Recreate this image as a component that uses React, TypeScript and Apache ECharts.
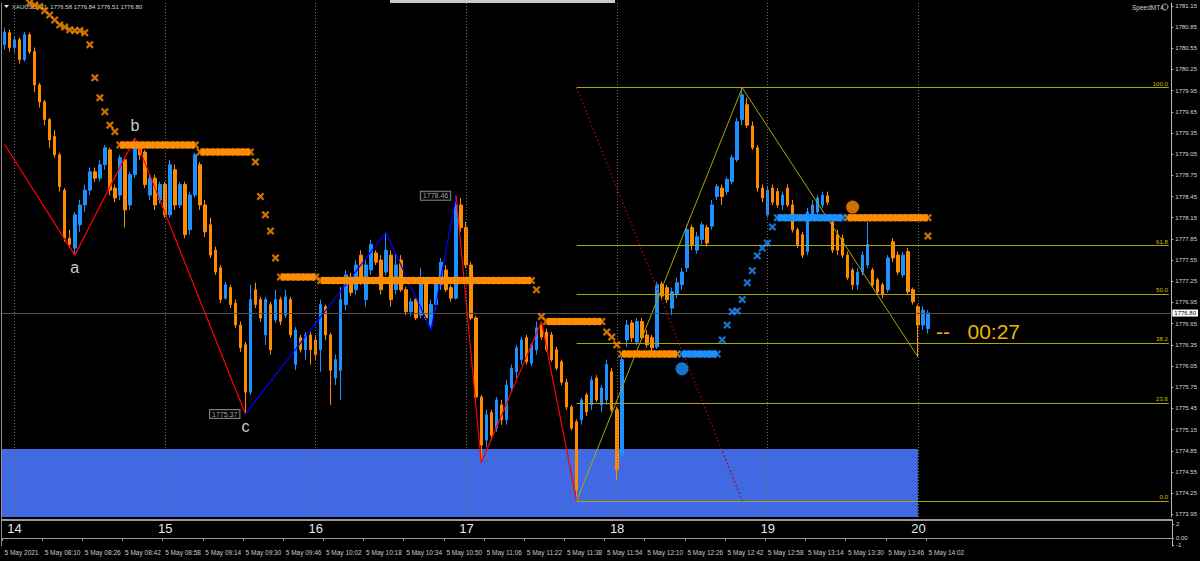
import React, { useEffect, useRef } from "react";
import * as echarts from "echarts";

// ---------- data (2-minute slots, slot 0 = 07:54) ----------
const SLOT_COUNT = 233;
// [open, close, low, high]
const candles: number[][] = [
  [1780.60, 1780.78, 1780.53, 1780.84], [1780.77, 1780.56, 1780.50, 1780.81], [1780.56, 1780.67, 1780.48, 1780.71],
  [1780.67, 1780.39, 1780.33, 1780.70], [1780.39, 1780.74, 1780.36, 1780.78], [1780.74, 1780.50, 1780.47, 1780.77],
  [1780.50, 1780.03, 1779.93, 1780.56], [1780.03, 1779.79, 1779.71, 1780.06], [1779.79, 1779.54, 1779.46, 1779.82],
  [1779.54, 1779.25, 1779.14, 1779.56], [1779.30, 1779.04, 1779.00, 1779.39], [1779.04, 1778.59, 1778.52, 1779.07],
  [1778.54, 1777.86, 1777.81, 1778.57], [1777.86, 1777.77, 1777.72, 1777.98], [1777.72, 1778.19, 1777.62, 1778.23],
  [1778.05, 1778.33, 1777.95, 1778.40], [1778.33, 1778.54, 1778.23, 1778.62], [1778.54, 1778.80, 1778.47, 1778.86],
  [1778.80, 1778.71, 1778.66, 1778.86], [1778.71, 1778.90, 1778.66, 1778.97], [1778.90, 1779.14, 1778.83, 1779.18],
  [1779.11, 1778.54, 1778.47, 1779.14], [1778.57, 1778.43, 1778.37, 1778.62], [1778.47, 1779.00, 1778.40, 1779.04],
  [1778.97, 1778.26, 1778.01, 1779.00], [1778.33, 1778.76, 1778.26, 1778.80], [1778.76, 1779.18, 1778.71, 1779.28],
  [1779.14, 1779.04, 1778.97, 1779.18], [1779.08, 1778.62, 1778.57, 1779.11], [1778.47, 1778.71, 1778.40, 1778.76],
  [1778.71, 1778.33, 1778.26, 1778.76], [1778.40, 1778.62, 1778.35, 1778.66], [1778.62, 1778.19, 1778.15, 1778.66],
  [1778.19, 1778.90, 1778.15, 1778.97], [1778.83, 1778.33, 1778.26, 1778.90], [1778.33, 1778.62, 1778.29, 1778.66],
  [1778.62, 1777.91, 1777.86, 1778.66], [1777.98, 1778.47, 1777.91, 1778.52], [1778.47, 1779.04, 1778.43, 1779.07],
  [1778.90, 1778.33, 1778.26, 1778.94], [1778.33, 1777.95, 1777.88, 1778.40], [1778.05, 1777.62, 1777.58, 1778.15],
  [1777.69, 1777.38, 1777.34, 1777.74], [1777.44, 1776.99, 1776.94, 1777.48], [1777.01, 1777.20, 1776.99, 1777.24],
  [1777.16, 1776.92, 1776.87, 1777.20], [1776.94, 1776.63, 1776.59, 1776.99], [1776.63, 1776.31, 1776.25, 1776.68],
  [1776.35, 1775.68, 1775.37, 1776.39], [1775.68, 1776.99, 1775.64, 1777.20], [1777.13, 1776.92, 1776.87, 1777.23],
  [1776.99, 1776.73, 1776.68, 1777.03], [1776.49, 1776.99, 1776.35, 1777.03], [1776.92, 1776.28, 1776.21, 1776.96],
  [1776.70, 1776.99, 1776.66, 1777.13], [1776.99, 1776.68, 1776.63, 1777.03], [1776.77, 1777.03, 1776.73, 1777.13],
  [1776.99, 1776.49, 1776.45, 1777.03], [1776.07, 1776.56, 1775.99, 1776.60], [1776.45, 1776.28, 1776.24, 1776.49],
  [1776.28, 1776.49, 1776.14, 1776.53], [1776.49, 1776.28, 1776.07, 1776.53], [1776.42, 1776.21, 1776.14, 1776.49],
  [1776.28, 1776.92, 1775.97, 1776.99], [1776.89, 1776.49, 1776.42, 1776.92], [1776.49, 1775.99, 1775.50, 1776.52],
  [1775.88, 1776.14, 1775.78, 1776.21], [1775.99, 1776.99, 1775.57, 1777.17], [1776.92, 1777.34, 1776.84, 1777.41],
  [1777.31, 1777.09, 1777.04, 1777.37], [1777.13, 1777.48, 1777.06, 1777.55], [1777.62, 1777.27, 1777.20, 1777.69],
  [1776.99, 1777.48, 1776.89, 1777.55], [1777.41, 1777.77, 1777.34, 1777.84], [1777.65, 1777.52, 1777.48, 1777.69],
  [1777.55, 1777.13, 1777.06, 1777.62], [1777.38, 1777.69, 1777.33, 1777.94], [1777.62, 1776.99, 1776.89, 1777.69],
  [1777.13, 1777.48, 1777.06, 1777.65], [1777.55, 1777.13, 1777.10, 1777.62], [1777.13, 1776.82, 1776.77, 1777.17],
  [1776.82, 1776.96, 1776.76, 1777.01], [1776.99, 1776.73, 1776.70, 1777.01], [1776.77, 1777.27, 1776.73, 1777.44],
  [1777.24, 1776.73, 1776.70, 1777.30], [1776.63, 1776.92, 1776.56, 1776.99], [1776.92, 1777.27, 1776.84, 1777.31],
  [1777.20, 1777.52, 1777.13, 1777.58], [1777.41, 1777.13, 1777.10, 1777.48], [1777.16, 1777.01, 1776.96, 1777.20],
  [1777.01, 1778.33, 1776.99, 1778.46], [1778.33, 1778.01, 1777.95, 1778.43], [1778.01, 1777.48, 1777.44, 1778.09],
  [1777.48, 1776.73, 1776.70, 1777.52], [1776.73, 1775.61, 1775.57, 1776.76], [1775.61, 1774.93, 1774.68, 1775.64],
  [1775.00, 1775.36, 1774.90, 1775.43], [1775.39, 1775.07, 1775.00, 1775.43], [1775.17, 1775.57, 1775.12, 1775.61],
  [1775.50, 1775.29, 1775.22, 1775.57], [1775.29, 1775.78, 1775.22, 1775.85], [1775.74, 1776.02, 1775.68, 1776.07],
  [1775.97, 1776.31, 1775.88, 1776.35], [1776.14, 1776.42, 1776.07, 1776.46], [1776.45, 1776.11, 1776.07, 1776.49],
  [1776.09, 1776.35, 1776.05, 1776.38], [1776.28, 1776.59, 1776.21, 1776.68], [1776.63, 1776.46, 1776.42, 1776.68],
  [1776.53, 1776.28, 1776.25, 1776.58], [1776.49, 1776.14, 1776.11, 1776.53], [1776.28, 1776.02, 1775.99, 1776.32],
  [1776.11, 1775.82, 1775.78, 1776.14], [1775.82, 1775.47, 1775.43, 1775.87], [1775.47, 1775.17, 1775.14, 1775.50],
  [1775.26, 1774.30, 1774.14, 1775.29], [1775.29, 1775.57, 1775.22, 1775.60], [1775.64, 1775.40, 1775.34, 1775.67],
  [1775.50, 1775.85, 1775.43, 1775.90], [1775.88, 1775.57, 1775.54, 1775.92], [1775.50, 1775.74, 1775.40, 1775.78],
  [1775.57, 1776.07, 1775.50, 1776.14], [1775.97, 1775.43, 1775.40, 1776.02], [1775.43, 1774.58, 1774.44, 1775.47],
  [1774.79, 1776.14, 1774.75, 1776.18], [1776.42, 1776.63, 1776.32, 1776.70], [1776.66, 1776.45, 1776.39, 1776.70],
  [1776.39, 1776.68, 1776.35, 1776.73], [1776.68, 1776.45, 1776.42, 1776.73], [1776.49, 1776.35, 1776.31, 1776.56],
  [1776.45, 1776.31, 1776.25, 1776.49], [1776.32, 1777.20, 1776.29, 1777.24], [1777.21, 1777.04, 1776.99, 1777.25],
  [1777.16, 1776.99, 1776.94, 1777.20], [1776.87, 1777.10, 1776.77, 1777.16], [1777.06, 1777.23, 1777.01, 1777.30],
  [1777.20, 1777.38, 1777.13, 1777.44], [1777.44, 1777.98, 1777.38, 1778.05], [1778.01, 1777.77, 1777.69, 1778.05],
  [1777.69, 1777.88, 1777.64, 1777.95], [1777.84, 1778.05, 1777.77, 1778.09], [1778.01, 1777.79, 1777.74, 1778.05],
  [1778.03, 1778.33, 1777.98, 1778.40], [1778.45, 1778.59, 1778.40, 1778.63], [1778.57, 1778.45, 1778.33, 1778.62],
  [1778.52, 1778.69, 1778.47, 1778.73], [1778.66, 1779.00, 1778.62, 1779.04], [1778.97, 1779.51, 1778.94, 1779.56],
  [1779.54, 1779.89, 1779.46, 1779.99], [1779.75, 1779.46, 1779.42, 1779.85], [1779.45, 1779.14, 1779.11, 1779.51],
  [1779.14, 1778.57, 1778.52, 1779.18], [1778.57, 1778.43, 1778.37, 1778.62], [1778.19, 1778.54, 1778.15, 1778.60],
  [1778.57, 1778.37, 1778.33, 1778.62], [1778.52, 1778.33, 1778.29, 1778.57], [1778.33, 1778.47, 1778.26, 1778.52],
  [1778.57, 1778.33, 1778.30, 1778.62], [1778.33, 1777.98, 1777.94, 1778.40], [1777.98, 1777.77, 1777.72, 1778.01],
  [1777.91, 1777.62, 1777.58, 1777.95], [1777.67, 1778.23, 1777.62, 1778.29], [1778.19, 1778.33, 1778.15, 1778.40],
  [1778.23, 1778.43, 1778.19, 1778.47], [1778.33, 1778.47, 1778.29, 1778.52], [1778.46, 1778.37, 1778.33, 1778.52],
  [1778.09, 1777.69, 1777.65, 1778.15], [1777.91, 1777.69, 1777.62, 1777.98], [1777.86, 1777.62, 1777.58, 1777.91],
  [1777.62, 1777.30, 1777.27, 1777.67], [1777.41, 1777.20, 1777.13, 1777.44], [1777.20, 1777.38, 1777.13, 1777.44],
  [1777.38, 1777.62, 1777.33, 1777.67], [1777.48, 1777.77, 1777.44, 1778.09], [1777.41, 1777.20, 1777.16, 1777.44],
  [1777.27, 1777.10, 1777.06, 1777.30], [1777.20, 1777.06, 1777.01, 1777.23], [1777.13, 1777.58, 1777.09, 1777.62],
  [1777.81, 1777.58, 1777.52, 1777.86], [1777.62, 1777.38, 1777.34, 1777.67], [1777.34, 1777.62, 1777.30, 1777.67],
  [1777.67, 1777.10, 1777.06, 1777.72], [1777.13, 1776.96, 1776.92, 1777.16], [1776.89, 1776.63, 1776.18, 1776.92],
  [1776.63, 1776.84, 1776.56, 1776.89], [1776.58, 1776.80, 1776.51, 1776.84],
];

const timeLabels = [
  "5 May 2021", "5 May 08:10", "5 May 08:26", "5 May 08:42", "5 May 08:58", "5 May 09:14", "5 May 09:30",
  "5 May 09:46", "5 May 10:02", "5 May 10:18", "5 May 10:34", "5 May 10:50", "5 May 11:06", "5 May 11:22",
  "5 May 11:38", "5 May 11:54", "5 May 12:10", "5 May 12:26", "5 May 12:42", "5 May 12:58", "5 May 13:14",
  "5 May 13:30", "5 May 13:46", "5 May 14:02",
];
const TIME_LABEL_STEP = 8;
const hourLabels = ["14", "15", "16", "17", "18", "19", "20"];
const hourSlots = [2, 32, 62, 92, 122, 152, 182];

const yTicks = [
  1773.95, 1774.25, 1774.55, 1774.85, 1775.15, 1775.45, 1775.75, 1776.05, 1776.35, 1776.65, 1776.95, 1777.25,
  1777.55, 1777.85, 1778.15, 1778.45, 1778.75, 1779.05, 1779.35, 1779.65, 1779.95, 1780.25, 1780.55, 1780.85, 1781.15,
];
const Y_MIN = 1773.912;
const Y_MAX = 1781.19;
const subTicks = [2, 0, -1];

const zigRedA = [[0, 1779.19], [14, 1777.62], [26, 1779.28], [48, 1775.37]];
const zigBlue = [[48, 1775.37], [76, 1777.94], [85, 1776.56], [90, 1778.46]];
const zigRedB = [[90, 1778.46], [95, 1774.68], [107, 1776.68], [114, 1774.14]];
const waveNames = ["a", "b", "c"];
const waveSlots = [14, 26, 48];
const waveValues = [1777.62, 1779.28, 1775.37];
const wavePos = ["bottom", "top", "bottom"];
const priceTagSlots = [48, 90];
const priceTagValues = [1775.37, 1778.46];

const fibLow = [114, 1774.14];
const fibHigh = [147, 1779.99];
const fibEnd = [182, 1776.18];
const fibLevels = [0, 23.6, 38.2, 50, 61.8, 100];
const currentPrice = 1776.8;
const zoneTop = 1774.875;
const zoneEndSlot = 182;

const sarOrangeSlots = [5, 6, 7, 8, 9, 10, 11, 12, 13, 14, 15, 16, 17, 18, 19, 20, 21, 22, 50, 51, 52, 53, 54, 106, 107, 120, 121, 122, 184];
const sarOrangeValues = [
  1781.19, 1781.16, 1781.14, 1781.08, 1781.02, 1780.95, 1780.88, 1780.85, 1780.81, 1780.8, 1780.8, 1780.77, 1780.6,
  1780.13, 1779.85, 1779.65, 1779.46, 1779.37, 1778.94, 1778.45, 1778.19, 1777.96, 1777.58, 1777.13, 1776.75,
  1776.53, 1776.46, 1776.35, 1777.89,
];
const sarBlueSlots = [143, 144, 145, 146, 147, 148, 149, 150, 151, 152, 153];
const sarBlueValues = [1776.42, 1776.63, 1776.82, 1776.83, 1776.99, 1777.23, 1777.4, 1777.61, 1777.72, 1777.79, 1778.02];
const bandStart = [23, 39, 55, 63, 108, 123, 135, 154, 168];
const bandEnd = [38, 49, 62, 105, 119, 134, 142, 167, 184];
const bandValue = [1779.18, 1779.08, 1777.31, 1777.26, 1776.68, 1776.22, 1776.22, 1778.15, 1778.15];
const bandIsBlue = [false, false, false, false, false, false, true, true, false];
const signalSlots = [135, 169];
const signalValues = [1776.01, 1778.3];
const signalIsBlue = [true, false];

// ---------- styling ----------
const ORANGE = "#FF8C00";
const BLUE = "#1E90FF";
const FIB = "#A8A800";
const FONT = "'Liberation Sans', Arial, sans-serif";
const X_PATH = "path://M0,2L2,0L5,3L8,0L10,2L7,5L10,8L8,10L5,7L2,10L0,8L3,5Z";

export default function App() {
  const ref = useRef<HTMLDivElement>(null);

  useEffect(() => {
    if (!ref.current) return;
    const chart = echarts.init(ref.current, undefined, { renderer: "svg" });
    const categories = Array.from({ length: SLOT_COUNT }, (_, i) => String(i));
    const fibPrice = (lvl: number) => fibLow[1] + ((fibHigh[1] - fibLow[1]) * lvl) / 100;

    const bandSeries = bandStart.map((s, k) => ({
      type: "line",
      z: 5,
      silent: true,
      symbol: "none",
      data: [[s, bandValue[k]], [bandEnd[k], bandValue[k]]],
      lineStyle: { color: bandIsBlue[k] ? BLUE : ORANGE, width: 7 },
    }));

    const orangeX: number[][] = sarOrangeSlots.map((s, k) => [s, sarOrangeValues[k]]);
    const blueX: number[][] = sarBlueSlots.map((s, k) => [s, sarBlueValues[k]]);
    bandStart.forEach((s, k) => {
      for (let i = s; i <= bandEnd[k]; i++) (bandIsBlue[k] ? blueX : orangeX).push([i, bandValue[k]]);
    });

    const timeInterval = (i: number) => i % TIME_LABEL_STEP === 0 && i / TIME_LABEL_STEP < timeLabels.length;

    const option: any = {
      animation: false,
      backgroundColor: "#000",
      textStyle: { fontFamily: FONT },
      grid: [
        { left: 2, right: 28, top: 3, height: 514 },
        { left: 2, right: 28, top: 520, height: 26 },
      ],
      xAxis: [
        {
          type: "category", gridIndex: 0, data: categories, boundaryGap: true,
          axisLine: { show: false }, axisTick: { show: false }, axisLabel: { show: false }, splitLine: { show: false },
        },
        {
          type: "category", gridIndex: 1, data: categories, boundaryGap: true, position: "bottom",
          axisLine: { show: true, lineStyle: { color: "#9a9a9a" } },
          axisTick: { show: true, length: 3, interval: timeInterval, lineStyle: { color: "#9a9a9a" } },
          axisLabel: {
            interval: timeInterval,
            formatter: (v: string) => timeLabels[Number(v) / TIME_LABEL_STEP],
            align: "left", margin: 3, fontSize: 6.5, color: "#c8c8c8", fontFamily: FONT,
          },
          splitLine: { show: false },
        },
        {
          type: "category", gridIndex: 1, data: categories, boundaryGap: true, position: "top",
          axisLine: { show: true, lineStyle: { color: "#9a9a9a", width: 2 } },
          axisTick: { show: false },
          axisLabel: {
            inside: true, margin: 2,
            interval: (i: number) => hourSlots.includes(i),
            formatter: (v: string) => hourLabels[hourSlots.indexOf(Number(v))],
            fontSize: 13, color: "#e6e6e6", fontFamily: FONT,
          },
          splitLine: { show: false },
        },
      ],
      yAxis: [
        {
          type: "value", gridIndex: 0, position: "right", min: Y_MIN, max: Y_MAX,
          splitLine: { show: false },
          axisLine: { show: true, lineStyle: { color: "#b8b8b8" } },
          axisTick: { show: true, length: 2, customValues: yTicks, lineStyle: { color: "#b8b8b8" } },
          axisLabel: {
            customValues: yTicks, formatter: (v: number) => v.toFixed(2),
            fontSize: 6, color: "#d8d8d8", margin: 4, fontFamily: FONT,
          },
        },
        {
          type: "value", gridIndex: 1, position: "right", min: -1.143, max: 2.571,
          splitLine: { show: false },
          axisLine: { show: true, lineStyle: { color: "#b8b8b8" } },
          axisTick: { show: true, length: 2, customValues: subTicks, lineStyle: { color: "#b8b8b8" } },
          axisLabel: {
            customValues: subTicks, formatter: (v: number) => (v === 0 ? "0.00" : String(v)),
            fontSize: 6, color: "#d8d8d8", margin: 4, fontFamily: FONT,
          },
        },
      ],
      series: [
        {
          type: "line", z: 1, silent: true, data: [],
          markArea: {
            silent: true,
            itemStyle: { color: "#4169E1", opacity: 1 },
            data: [[{ xAxis: -Infinity, yAxis: zoneTop }, { xAxis: String(zoneEndSlot), yAxis: Y_MIN }]],
          },
        },
        {
          type: "line", z: 2, silent: true, data: [],
          markLine: {
            silent: true, symbol: ["none", "none"],
            data: [
              ...hourSlots.map((s) => ({
                xAxis: String(s), label: { show: false },
                lineStyle: { color: "#707070", type: [1, 2], width: 1 },
              })),
              {
                yAxis: currentPrice,
                lineStyle: { color: "#505050", type: "solid", width: 1 },
                label: {
                  show: true, position: "end", distance: 1, formatter: currentPrice.toFixed(2),
                  backgroundColor: "#ffffff", color: "#000000", padding: [1, 2, 0, 2], fontSize: 6, fontFamily: FONT,
                },
              },
            ],
          },
        },
        {
          type: "candlestick", z: 3, data: candles, barWidth: 3,
          itemStyle: { color: BLUE, color0: ORANGE, borderColor: BLUE, borderColor0: ORANGE, borderWidth: 1 },
        },
        { type: "line", z: 4, silent: true, symbol: "none", data: zigRedA, lineStyle: { color: "#FF0000", width: 1.2 } },
        { type: "line", z: 4, silent: true, symbol: "none", data: zigBlue, lineStyle: { color: "#0000FF", width: 1.2 } },
        { type: "line", z: 4, silent: true, symbol: "none", data: zigRedB, lineStyle: { color: "#FF0000", width: 1.2 } },
        { type: "line", z: 4, silent: true, symbol: "none", data: [fibLow, fibHigh, fibEnd], lineStyle: { color: FIB, width: 1 } },
        {
          type: "line", z: 4, silent: true, symbol: "none",
          data: [[fibLow[0], fibHigh[1]], [fibHigh[0], fibLow[1]]],
          lineStyle: { color: "#B00000", width: 1.3, type: [1.5, 2.5] },
        },
        {
          type: "line", z: 4, silent: true, data: [],
          markLine: {
            silent: true, symbol: ["none", "none"],
            lineStyle: { color: FIB, width: 1, type: "solid" },
            data: fibLevels.map((l) => [
              {
                coord: [String(fibLow[0]), fibPrice(l)],
                label: {
                  show: true, position: "insideEndTop", distance: 1, formatter: l.toFixed(1),
                  color: "#C8C800", fontSize: 6, fontFamily: FONT,
                },
              },
              { coord: [String(SLOT_COUNT - 1), fibPrice(l)] },
            ]),
          },
        },
        ...bandSeries,
        {
          type: "scatter", z: 6, silent: true, symbol: X_PATH, symbolSize: 8, data: orangeX,
          itemStyle: { color: ORANGE },
        },
        {
          type: "scatter", z: 6, silent: true, symbol: X_PATH, symbolSize: 8, data: blueX,
          itemStyle: { color: BLUE },
        },
        {
          type: "scatter", z: 6, silent: true, symbol: "circle", symbolSize: 13,
          data: signalSlots.map((s, k) => ({
            value: [s, signalValues[k]], itemStyle: { color: signalIsBlue[k] ? BLUE : ORANGE },
          })),
        },
        {
          type: "scatter", z: 7, silent: true, symbolSize: 0,
          data: priceTagSlots.map((s, k) => [s, priceTagValues[k]]),
          label: {
            show: true, position: "left", distance: 6,
            formatter: (p: any) => p.value[1].toFixed(2),
            color: "#d0d0d0", fontSize: 7, fontFamily: FONT,
            backgroundColor: "#000", borderColor: "#a0a0a0", borderWidth: 1, padding: [1, 2, 0, 2],
          },
        },
        {
          type: "scatter", z: 7, silent: true, symbolSize: 0,
          data: waveSlots.map((s, k) => ({
            value: [s, waveValues[k]],
            label: { position: wavePos[k], formatter: waveNames[k] },
          })),
          label: { show: true, distance: 4, color: "#ffffff", fontSize: 16, fontFamily: FONT },
        },
      ],
      graphic: [
        { type: "line", z: 10, shape: { x1: 1.5, y1: 3, x2: 1.5, y2: 546 }, style: { stroke: "#8a8a8a", lineWidth: 1 } },
        { type: "rect", z: 10, shape: { x: 390, y: 0, width: 225, height: 3 }, style: { fill: "#c8c8c8" } },
        { type: "polygon", z: 0, shape: { points: [[4, 5], [9, 5], [6.5, 8]] }, style: { fill: "#e0e0e0" } },
        {
          type: "text", z: 0, x: 12, y: 7,
          style: {
            text: "XAUUSD,M1  1776.58 1776.84 1776.51 1776.80", fill: "#d8d8d8",
            font: `6px ${FONT}`, verticalAlign: "middle",
          },
        },
        {
          type: "text", z: 10, x: 1132, y: 7,
          style: { text: "SpeedMT4", fill: "#d0d0d0", font: `6.5px ${FONT}`, verticalAlign: "middle" },
        },
        { type: "circle", z: 10, shape: { cx: 1165, cy: 7, r: 3 }, style: { fill: "none", stroke: "#b0b0b0", lineWidth: 1 } },
        {
          type: "text", z: 10, x: 936, y: 331,
          style: { text: "--   00:27", fill: "#E6B800", font: `21px ${FONT}`, verticalAlign: "middle" },
        },
      ],
    };

    chart.setOption(option);
    return () => chart.dispose();
  }, []);

  return (
    <div
      ref={ref}
      style={{ position: "fixed", left: 0, top: 0, width: 1200, height: 561, background: "#000" }}
    />
  );
}
